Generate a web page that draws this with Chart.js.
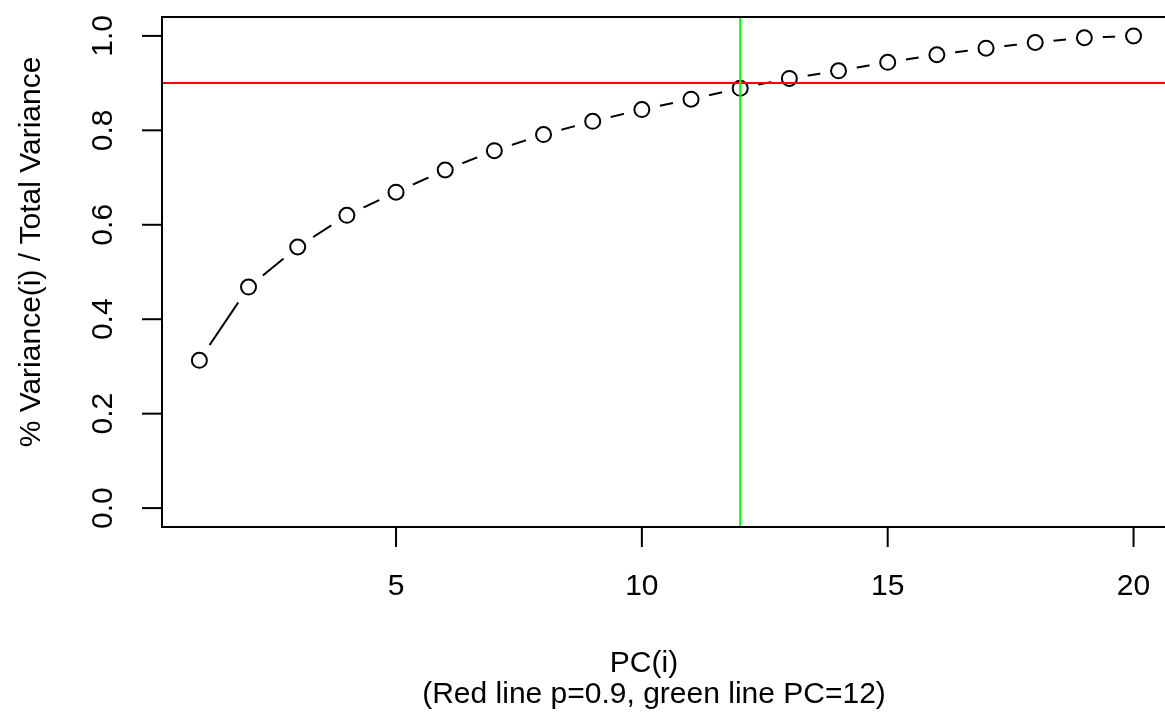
<!DOCTYPE html>
<html>
<head>
<meta charset="utf-8">
<script src="https://cdn.jsdelivr.net/npm/chart.js@4"></script>
<style>
  html, body { margin: 0; padding: 0; background: #fff; overflow: hidden; }
  #wrap { width: 1165px; height: 719px; }
</style>
</head>
<body>
<div id="wrap"><canvas id="pcaChart" width="1165" height="719"></canvas></div>
<script>
// Cumulative proportion of variance per principal component
const pcIndex = [1, 2, 3, 4, 5, 6, 7, 8, 9, 10, 11, 12, 13, 14, 15, 16, 17, 18, 19, 20];
const cumVariance = [0.313, 0.468, 0.553, 0.620, 0.669, 0.716, 0.757, 0.791, 0.819, 0.844,
                     0.866, 0.889, 0.910, 0.926, 0.944, 0.960, 0.974, 0.986, 0.996, 1.000];

const xTicks = [5, 10, 15, 20];
const yTicks = [0.0, 0.2, 0.4, 0.6, 0.8, 1.0];
const yTickLabels = ['0.0', '0.2', '0.4', '0.6', '0.8', '1.0'];

const thresholdP = 0.9;   // red line
const chosenPC = 12;      // green line

const xTitle = 'PC(i)';
const xSubTitle = '(Red line p=0.9, green line PC=12)';
const yTitle = '% Variance(i) / Total Variance';

const FONT = '30px "Liberation Sans", Arial, sans-serif';

const points = pcIndex.map((pc, i) => ({ x: pc, y: cumVariance[i] }));

// R-like axes, box, reference lines and labels
const basePlot = {
    id: 'basePlot',
    afterDraw(chart) {
        const ctx = chart.ctx;
        const a = chart.chartArea;
        const xs = chart.scales.x, ys = chart.scales.y;
        ctx.save();

        // reference lines (abline)
        ctx.lineWidth = 2;
        ctx.strokeStyle = '#ff0000';
        const yp = ys.getPixelForValue(thresholdP);
        ctx.beginPath(); ctx.moveTo(a.left, yp); ctx.lineTo(a.right, yp); ctx.stroke();
        ctx.strokeStyle = '#00ff00';
        const xp = xs.getPixelForValue(chosenPC);
        ctx.beginPath(); ctx.moveTo(xp, a.top); ctx.lineTo(xp, a.bottom); ctx.stroke();

        // box (right side falls outside the picture)
        ctx.strokeStyle = '#000';
        ctx.lineWidth = 2;
        ctx.beginPath();
        ctx.moveTo(a.right + 2, a.top);
        ctx.lineTo(a.left, a.top);
        ctx.lineTo(a.left, a.bottom);
        ctx.lineTo(a.right + 2, a.bottom);
        ctx.stroke();

        // x axis ticks
        ctx.fillStyle = '#000';
        ctx.font = FONT;
        ctx.textAlign = 'center';
        ctx.textBaseline = 'middle';
        xTicks.forEach(v => {
            const px = xs.getPixelForValue(v);
            ctx.beginPath(); ctx.moveTo(px, a.bottom); ctx.lineTo(px, a.bottom + 20); ctx.stroke();
            ctx.fillText(String(v), px, 587);
        });

        // y axis ticks (rotated labels)
        yTicks.forEach((v, i) => {
            const py = ys.getPixelForValue(v);
            ctx.beginPath(); ctx.moveTo(a.left, py); ctx.lineTo(a.left - 20, py); ctx.stroke();
            ctx.save();
            ctx.translate(104, py);
            ctx.rotate(-Math.PI / 2);
            ctx.fillText(yTickLabels[i], 0, 0);
            ctx.restore();
        });

        // titles
        ctx.fillText(xTitle, 644, 664);
        ctx.fillText(xSubTitle, 654, 695);
        ctx.save();
        ctx.translate(32, 252);
        ctx.rotate(-Math.PI / 2);
        ctx.fillText(yTitle, 0, 0);
        ctx.restore();

        ctx.restore();
    }
};

const ctx = document.getElementById('pcaChart').getContext('2d');
const pcaChart = new Chart(ctx, {
    type: 'scatter',
    data: {
        datasets: [
            {
                // open circles
                data: points,
                showLine: false,
                pointRadius: 7.5,
                pointBorderWidth: 2,
                pointBorderColor: '#000',
                pointBackgroundColor: 'rgba(0,0,0,0)'
            },
            {
                // connecting line, with white masks giving the type="b" gaps
                data: points,
                showLine: true,
                borderColor: '#000',
                borderWidth: 2,
                pointRadius: 18.5,
                pointBorderWidth: 0,
                pointBorderColor: '#fff',
                pointBackgroundColor: '#fff'
            }
        ]
    },
    options: {
        responsive: false,
        animation: false,
        events: [],
        layout: { autoPadding: false, padding: { left: 162, top: 17, right: 0, bottom: 192 } },
        plugins: { legend: { display: false }, tooltip: { enabled: false } },
        scales: {
            x: { type: 'linear', min: 0.24, max: 20.64, display: false },
            y: { type: 'linear', min: -0.04, max: 1.04, display: false }
        }
    },
    plugins: [basePlot]
});
</script>
</body>
</html>
